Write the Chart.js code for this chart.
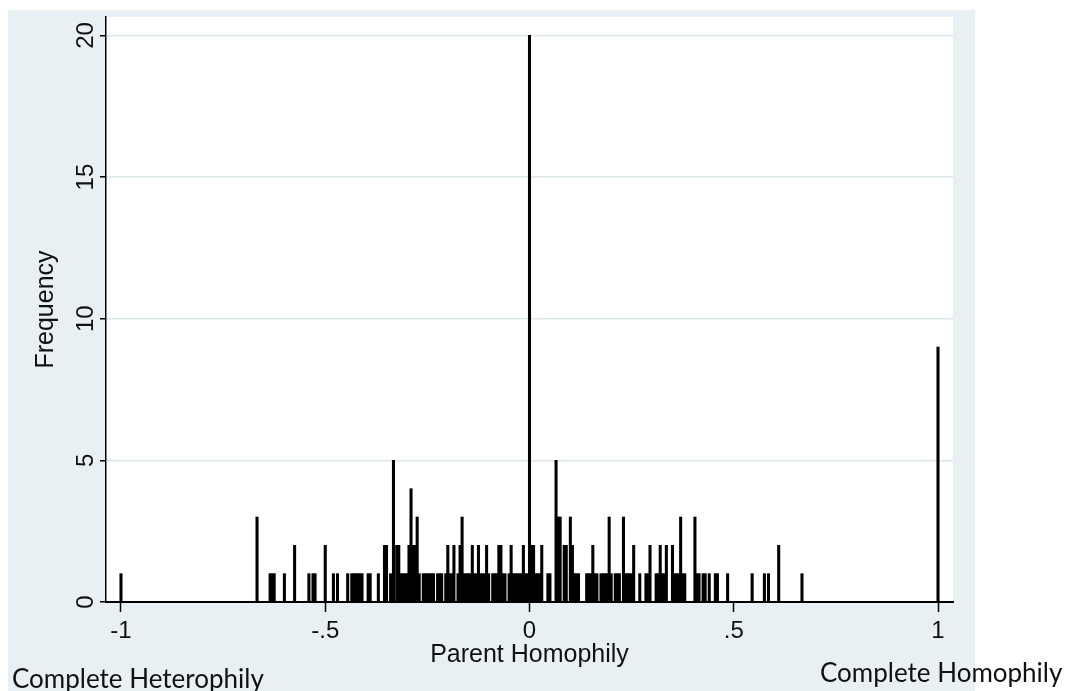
<!DOCTYPE html>
<html lang="en">
<head>
  <meta charset="UTF-8">
  <title>Parent Homophily</title>
  <style>
    body { margin: 0; background: #fff; }
    #wrap { position: relative; width: 1065px; height: 691px; }
    .note {
      position: absolute;
      font-family: Lato, "Open Sans", sans-serif;
      font-size: 26px;
      color: #111;
      white-space: nowrap;
      line-height: 1;
    }
  </style>
</head>
<body>
  <div id="wrap">
    <canvas id="chart1" width="1065" height="691"></canvas>
    <div class="note" style="left:12px; top:665px;">Complete Heterophily</div>
    <div class="note" style="left:820px; top:659px;">Complete Homophily</div>
  </div>

  <script src="https://cdn.jsdelivr.net/npm/chart.js@4.4.1/dist/chart.umd.min.js"></script>
  <script>
    // homophily value of each spike and how many pairs have it
    const homophily = [
      -1, -0.667, -0.635, -0.63, -0.625, -0.6, -0.575, -0.54, -0.53, -0.525,
      -0.5, -0.48, -0.47, -0.445, -0.435, -0.43, -0.425, -0.42, -0.415, -0.41,
      -0.395, -0.39, -0.37, -0.355, -0.35, -0.34, -0.333, -0.325, -0.32, -0.315,
      -0.31, -0.305, -0.3, -0.295, -0.29, -0.285, -0.28, -0.275, -0.27, -0.26,
      -0.255, -0.25, -0.245, -0.24, -0.235, -0.225, -0.22, -0.215, -0.205, -0.2,
      -0.195, -0.19, -0.185, -0.175, -0.17, -0.165, -0.16, -0.155, -0.15, -0.145,
      -0.14, -0.135, -0.13, -0.125, -0.12, -0.115, -0.11, -0.105, -0.1, -0.09,
      -0.085, -0.08, -0.075, -0.07, -0.065, -0.06, -0.05, -0.045, -0.04, -0.035,
      -0.03, -0.025, -0.02, -0.015, -0.01, -0.005, 0, 0.005, 0.01, 0.015,
      0.02, 0.025, 0.03, 0.045, 0.05, 0.065, 0.07, 0.075, 0.085, 0.09,
      0.1, 0.105, 0.11, 0.115, 0.12, 0.14, 0.145, 0.15, 0.155, 0.16,
      0.165, 0.175, 0.18, 0.185, 0.19, 0.195, 0.2, 0.21, 0.215, 0.22,
      0.23, 0.235, 0.24, 0.245, 0.25, 0.255, 0.27, 0.285, 0.29, 0.295,
      0.31, 0.315, 0.32, 0.325, 0.33, 0.335, 0.35, 0.355, 0.36, 0.365,
      0.37, 0.375, 0.38, 0.405, 0.41, 0.415, 0.425, 0.43, 0.44, 0.455,
      0.46, 0.485, 0.545, 0.575, 0.585, 0.61, 0.667, 1
    ];
    const frequency = [
      1, 3, 1, 1, 1, 1, 2, 1, 1, 1,
      2, 1, 1, 1, 1, 1, 1, 1, 1, 1,
      1, 1, 1, 2, 2, 1, 5, 2, 2, 1,
      1, 1, 1, 2, 4, 2, 2, 3, 1, 1,
      1, 1, 1, 1, 1, 1, 1, 1, 1, 2,
      1, 1, 2, 1, 2, 3, 1, 1, 1, 1,
      2, 1, 1, 2, 1, 1, 1, 2, 1, 1,
      1, 1, 2, 2, 1, 1, 1, 2, 1, 1,
      1, 1, 1, 2, 1, 1, 20, 2, 2, 1,
      1, 1, 2, 1, 1, 5, 3, 3, 2, 2,
      3, 2, 1, 1, 1, 1, 1, 1, 2, 1,
      1, 1, 1, 1, 1, 3, 1, 1, 1, 1,
      3, 1, 1, 1, 1, 2, 1, 1, 1, 2,
      1, 1, 2, 1, 1, 2, 2, 1, 1, 1,
      3, 1, 1, 3, 1, 1, 1, 1, 1, 1,
      1, 1, 1, 1, 1, 2, 1, 9
    ];

    const xTicks = [-1, -0.5, 0, 0.5, 1];
    const yTicks = [0, 5, 10, 15, 20];

    const points = homophily.map((v, i) => ({ x: v, y: frequency[i] }));

    // stata style: ".5" instead of "0.5"
    const fmt = v => (v === 0 ? '0' : String(v).replace('0.', '.'));

    const family = '"Liberation Sans", Arial, sans-serif';

    // grey page behind, white plot region
    const panelBg = {
      id: 'panelBg',
      beforeDraw(chart) {
        const ctx = chart.ctx;
        const a = chart.chartArea;
        ctx.save();
        ctx.fillStyle = '#e9f0f3';
        ctx.fillRect(8, 10, 967, 681);
        ctx.fillStyle = '#ffffff';
        ctx.fillRect(a.left, a.top, a.right - a.left, a.bottom - a.top);
        ctx.restore();
      }
    };

    new Chart(document.getElementById('chart1'), {
      type: 'bar',
      data: {
        datasets: [{
          data: points,
          backgroundColor: '#000',
          borderWidth: 0,
          barThickness: 2.4
        }]
      },
      options: {
        responsive: false,
        animation: false,
        devicePixelRatio: 1,
        layout: { padding: { top: 17, right: 112, bottom: 0, left: 0 } },
        plugins: {
          legend: { display: false },
          tooltip: { enabled: false }
        },
        scales: {
          x: {
            type: 'linear',
            offset: false,
            min: -1.0367,
            max: 1.0367,
            afterBuildTicks: s => { s.ticks = xTicks.map(v => ({ value: v })); },
            afterFit: s => { s.height = 89; },
            grid: { offset: false, drawOnChartArea: false, drawTicks: true, tickLength: 10, tickColor: '#000', tickWidth: 1.5 },
            border: { color: '#000', width: 2 },
            ticks: { color: '#111', font: { family: family, size: 24 }, padding: 5, maxRotation: 0, callback: fmt },
            title: {
              display: true,
              text: 'Parent Homophily',
              color: '#111',
              font: { family: family, size: 25, lineHeight: 1 },
              padding: { top: 0, bottom: 23 }
            }
          },
          y: {
            min: 0,
            max: 20.65,
            afterBuildTicks: s => { s.ticks = yTicks.map(v => ({ value: v })); },
            afterFit: s => { s.width = 106; },
            grid: { color: '#dde8eb', lineWidth: 1.5, drawTicks: true, tickLength: 6, tickColor: '#000', tickWidth: 1.5 },
            border: { color: '#000', width: 1.5 },
            ticks: { color: '#111', font: { family: family, size: 24 }, padding: 0, minRotation: 90, maxRotation: 90, crossAlign: 'center' },
            title: {
              display: true,
              text: 'Frequency',
              color: '#111',
              font: { family: family, size: 25, lineHeight: 1 },
              padding: { top: 34, bottom: 0 }
            }
          }
        }
      },
      plugins: [panelBg]
    });
  </script>
</body>
</html>
